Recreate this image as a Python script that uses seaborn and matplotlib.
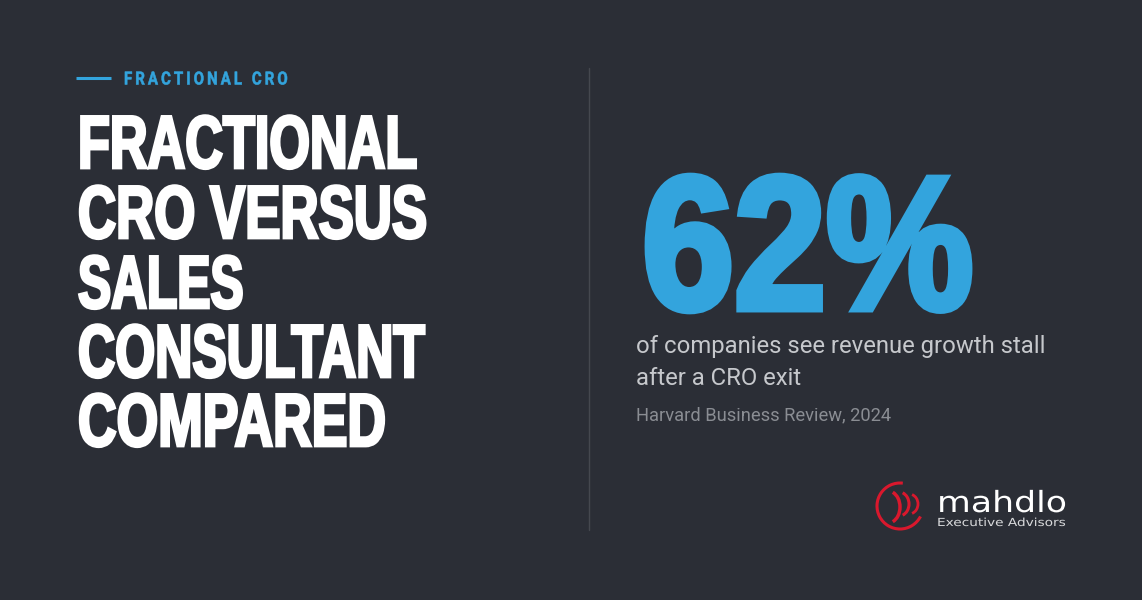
import matplotlib
matplotlib.use("Agg")
import matplotlib.pyplot as plt
import matplotlib.patheffects as pe
from matplotlib.patches import Arc
from matplotlib.transforms import Affine2D
import seaborn as sns

BG = "#2b2e36"
BLUE = "#33a4dd"
RED = "#d9182d"

eyebrow = "FRACTIONAL CRO"
title_lines = ["FRACTIONAL", "CRO VERSUS", "SALES", "CONSULTANT", "COMPARED"]
title_baselines = [168, 238, 308, 377, 446]
title_squeeze = [0.696, 0.704, 0.662, 0.686, 0.713]
stat = "62%"
stat_lines = ["of companies see revenue growth stall", "after a CRO exit"]
source = "Harvard Business Review, 2024"
logo_name = "mahdlo"
logo_sub = "Executive Advisors"


# no condensed heavy font installed, so squeeze + fatten the glyphs
class Squeeze(pe.AbstractPathEffect):
    def __init__(self, x0, sx, lw=0):
        super().__init__()
        self.x0, self.sx, self.lw = x0, sx, lw

    def draw_path(self, renderer, gc, tpath, affine, rgbFace):
        aff = affine + Affine2D().translate(-self.x0, 0).scale(self.sx, 1).translate(self.x0, 0)
        gc0 = renderer.new_gc()
        gc0.copy_properties(gc)
        if self.lw:
            gc0.set_foreground(rgbFace)
            gc0.set_linewidth(self.lw)
            gc0.set_joinstyle("miter")
        renderer.draw_path(gc0, tpath, aff, rgbFace)
        gc0.restore()


sns.set_theme(style="white", rc={"figure.facecolor": BG, "axes.facecolor": BG})
plt.rcParams["font.family"] = ["Roboto", "DejaVu Sans"]

fig = plt.figure(figsize=(11.42, 6), dpi=100)
ax = fig.add_axes([0, 0, 1, 1])
ax.set_xlim(0, 1142)
ax.set_ylim(600, 0)
ax.axis("off")

ax.plot([76, 111], [78, 78], color=BLUE, lw=2.2, solid_capstyle="butt")
ax.text(124, 84.5, "\u2009".join(eyebrow), color=BLUE, fontsize=13, fontweight="bold",
        va="baseline", path_effects=[Squeeze(124, 0.83, 0.4)])

for line, yb, sx in zip(title_lines, title_baselines, title_squeeze):
    ax.text(78, yb, line, color="white", fontsize=54, fontweight="bold",
            family="Liberation Sans", va="baseline",
            path_effects=[Squeeze(78, sx, 2.0)])

ax.plot([589, 589], [68, 530], color="#45484f", lw=1)

ax.text(642, 309, stat, color=BLUE, fontsize=137, fontweight="bold",
        family="Liberation Sans", va="baseline",
        path_effects=[Squeeze(642, 0.87, 5)])

for line, yb in zip(stat_lines, [353, 385]):
    ax.text(636, yb, line, color="#c6c8cc", fontsize=17.2, va="baseline")
ax.text(636, 420, source, color="#8a8d93", fontsize=13.2, va="baseline")

# logo mark
ax.add_patch(Arc((900, 506), 46, 46, theta1=27, theta2=277, color=RED, lw=2.2))
for cx, cy, w, h, lw in [(888, 507, 24, 32, 2.5), (899, 504, 20, 24, 2.2), (909, 504, 18, 20, 2)]:
    ax.add_patch(Arc((cx, cy), w, h, theta1=-72, theta2=72, color=RED, lw=lw))
ax.text(937, 512, logo_name, color="white", fontsize=21, family="DejaVu Sans",
        va="baseline", path_effects=[Squeeze(937, 1.19)])
ax.text(937, 526, logo_sub, color="#d8d9db", fontsize=8, family="DejaVu Sans",
        va="baseline", path_effects=[Squeeze(937, 1.23)])

fig.savefig("out.png", dpi=100, facecolor=BG)
